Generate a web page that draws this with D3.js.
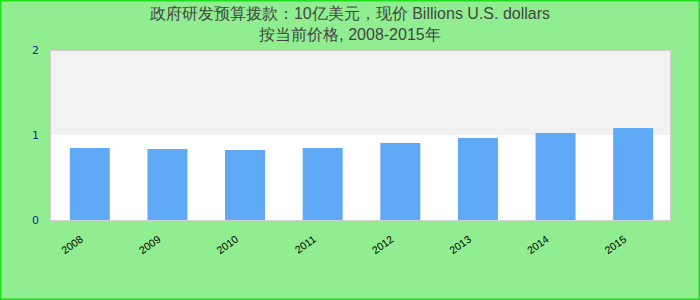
<!DOCTYPE html>
<html>
<head>
    <meta charset="utf-8">
    <script src="https://d3js.org/d3.v7.min.js"></script>
    <style>
      body { margin: 0; background: #90ee90; }
      svg { display: block; font-family: "Liberation Sans", Arial, sans-serif; }
    </style>
</head>
<body>
    <div id="chart"></div>
    <script>
    // chart data
    const years = ["2008", "2009", "2010", "2011", "2012", "2013", "2014", "2015"];
    const values = [0.847, 0.835, 0.824, 0.847, 0.906, 0.965, 1.024, 1.082];
    const yTicks = [0, 1, 2];
    const titleLines = [
      "政府研发预算拨款：10亿美元，现价 Billions U.S. dollars",
      "按当前价格, 2008-2015年"
    ];

    const W = 700, H = 300;
    const margin = { top: 50, right: 30, bottom: 80, left: 50 };
    const width = W - margin.left - margin.right;
    const height = H - margin.top - margin.bottom;

    const svg = d3.select("#chart")
      .append("svg")
      .attr("width", W)
      .attr("height", H);

    // background + green frame
    svg.append("rect")
      .attr("x", 0.75).attr("y", 0.75)
      .attr("width", W - 1.5).attr("height", H - 1.5)
      .attr("fill", "#90ee90")
      .attr("stroke", "#1fe01f")
      .attr("stroke-width", 1.5);

    // title
    svg.append("g")
      .selectAll("text")
      .data(titleLines)
      .join("text")
      .attr("x", W / 2)
      .attr("y", (d, i) => 19 + i * 21)
      .attr("text-anchor", "middle")
      .attr("fill", "#444")
      .style("font-size", "16px")
      .text(d => d);

    const g = svg.append("g")
      .attr("transform", `translate(${margin.left},${margin.top})`);

    const xScale = d3.scaleBand()
      .domain(years)
      .range([1, width + 2])
      .paddingInner(0.485)
      .paddingOuter(0.2425);

    const yScale = d3.scaleLinear()
      .domain([0, 2])
      .range([height, 0]);

    // plot background bands
    g.append("rect")
      .attr("x", 0).attr("y", 0)
      .attr("width", width).attr("height", height)
      .attr("fill", "#fff");

    g.selectAll(".band")
      .data([[1, 2]])
      .join("rect")
      .attr("class", "band")
      .attr("x", 0)
      .attr("y", d => yScale(d[1]))
      .attr("width", width)
      .attr("height", d => yScale(d[0]) - yScale(d[1]))
      .attr("fill", "#f2f2f2");

    // bars
    g.selectAll(".bar")
      .data(values)
      .join("rect")
      .attr("class", "bar")
      .attr("x", (d, i) => xScale(years[i]))
      .attr("y", d => yScale(d))
      .attr("width", xScale.bandwidth())
      .attr("height", d => yScale(0) - yScale(d))
      .attr("fill", "#60a9f6");

    // frame
    g.append("rect")
      .attr("x", 0.5).attr("y", 0.5)
      .attr("width", width).attr("height", height)
      .attr("fill", "none")
      .attr("stroke", "#d0d0d0");

    // y axis
    const yAxis = g.append("g")
      .call(d3.axisLeft(yScale).tickValues(yTicks).tickFormat(d3.format("d")).tickSize(0).tickPadding(11));
    yAxis.select(".domain").remove();
    yAxis.selectAll("text")
      .attr("fill", "#1a2490")
      .style("font-family", "'DejaVu Sans', sans-serif")
      .style("font-size", "11px");

    // x axis
    const xAxis = g.append("g")
      .attr("transform", `translate(0,${height})`)
      .call(d3.axisBottom(xScale).tickSize(0));
    xAxis.select(".domain").remove();
    xAxis.selectAll("text")
      .attr("fill", "#000")
      .style("font-size", "10.5px")
      .attr("text-anchor", "end")
      .attr("dy", null)
      .attr("y", 0)
      .attr("transform", "translate(-6,21) rotate(-35)");
    </script>
</body>
</html>
